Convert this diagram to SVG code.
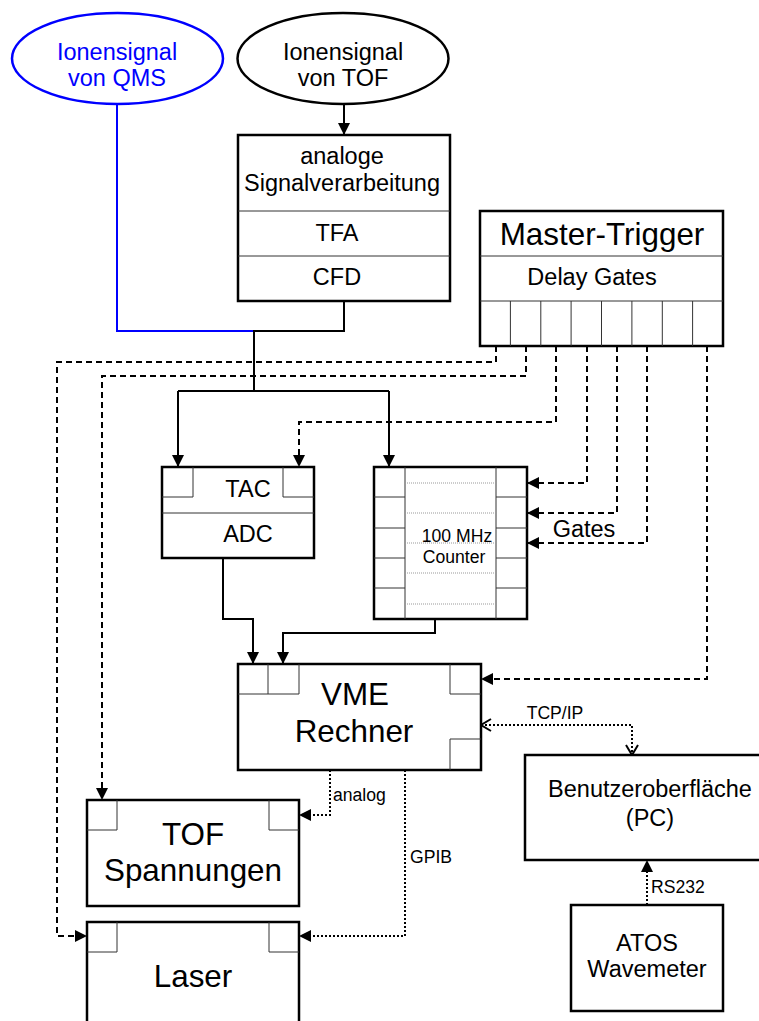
<svg xmlns="http://www.w3.org/2000/svg" width="759" height="1021" viewBox="0 0 759 1021">
<style>
.box{fill:#fff;stroke:#000;stroke-width:2.5}
.thin{fill:none;stroke:#333;stroke-width:1}
.dotthin{fill:none;stroke:#999;stroke-width:1;stroke-dasharray:1 1}
.t{font-family:"Liberation Sans",Arial,sans-serif;fill:#000;text-anchor:middle}
.s{text-anchor:start}
.f23{font-size:23.5px}
.f31{font-size:31.4px}
.f17{font-size:17.6px}
.solid{fill:none;stroke:#000;stroke-width:2}
.dash{fill:none;stroke:#000;stroke-width:2;stroke-dasharray:6 4}
.dot{fill:none;stroke:#000;stroke-width:2;stroke-dasharray:2 2}
.blue{fill:none;stroke:#0000ff;stroke-width:2}
</style>
<defs>
<marker id="arr" markerUnits="userSpaceOnUse" markerWidth="12" markerHeight="12" refX="12" refY="6" orient="auto">
<path d="M0,0 L12,6 L0,12 z" fill="#000"/>
</marker>
<marker id="open" markerUnits="userSpaceOnUse" markerWidth="14" markerHeight="14" refX="11" refY="7" orient="auto-start-reverse">
<path d="M1,1 L11,7 L1,13" fill="none" stroke="#000" stroke-width="2"/>
</marker>
</defs>

<g id="connectors">
<path class="blue" d="M117,104 V331 H254"/>
<path class="solid" d="M344,104 V135" marker-end="url(#arr)"/>
<path class="solid" d="M344,301 V331 H254 V391"/>
<path class="solid" d="M178,391 H389"/>
<path class="solid" d="M178,391 V467" marker-end="url(#arr)"/>
<path class="solid" d="M389,391 V467" marker-end="url(#arr)"/>
<path class="solid" d="M223,558 V619 H253 V664" marker-end="url(#arr)"/>
<path class="solid" d="M435,619 V633 H283 V664" marker-end="url(#arr)"/>
<path class="dash" d="M496,346 V362 H57 V936 H87" marker-end="url(#arr)"/>
<path class="dash" d="M526,346 V376 H102 V800" marker-end="url(#arr)"/>
<path class="dash" d="M556,346 V422 H299 V467" marker-end="url(#arr)"/>
<path class="dash" d="M587,346 V483 H527" marker-end="url(#arr)"/>
<path class="dash" d="M617,346 V513 H527" marker-end="url(#arr)"/>
<path class="dash" d="M647,346 V543 H527" marker-end="url(#arr)"/>
<path class="dash" d="M707,346 V679 H481" marker-end="url(#arr)"/>
<path class="dot" d="M330,770 V815 H299" marker-end="url(#arr)"/>
<path class="dot" d="M405,770 V936 H299" marker-end="url(#arr)"/>
<path class="dot" d="M481,725 H632 V755" marker-start="url(#open)" marker-end="url(#open)"/>
<path class="dot" d="M647,905 V860" marker-end="url(#arr)"/>
<text class="t f23" x="584" y="537">Gates</text>
<text class="t f17" x="555" y="719">TCP/IP</text>
<text class="t s f17" x="333" y="801">analog</text>
<text class="t s f17" x="410" y="863">GPIB</text>
<text class="t s f17" x="651" y="893">RS232</text>
</g>

<g id="qms">
<ellipse cx="117.5" cy="58.5" rx="105.5" ry="45.5" fill="#fff" stroke="#0000ff" stroke-width="2.5"/>
<text class="t f23" x="117" y="60" style="fill:#0000ff">Ionensignal</text>
<text class="t f23" x="117" y="86" style="fill:#0000ff">von QMS</text>
</g>

<g id="tof-signal">
<ellipse cx="343" cy="58.5" rx="105.5" ry="45.5" class="box"/>
<text class="t f23" x="343" y="60">Ionensignal</text>
<text class="t f23" x="343" y="86">von TOF</text>
</g>

<g id="analog-processing">
<rect class="box" x="238" y="135" width="212" height="166"/>
<path class="thin" d="M238,211 H450 M238,256 H450"/>
<text class="t f23" x="342" y="164">analoge</text>
<text class="t f23" x="342" y="191">Signalverarbeitung</text>
<text class="t f23" x="337" y="241">TFA</text>
<text class="t f23" x="337" y="285">CFD</text>
</g>

<g id="master-trigger">
<rect class="box" x="480" y="211" width="243" height="135"/>
<path class="thin" d="M480,256 H723 M480,301 H723 M510.4,301 V346 M540.8,301 V346 M571.1,301 V346 M601.5,301 V346 M631.9,301 V346 M662.3,301 V346 M692.6,301 V346"/>
<text class="t f31" x="602" y="245">Master-Trigger</text>
<text class="t f23" x="592" y="285">Delay Gates</text>
</g>

<g id="tac-adc">
<rect class="box" x="162" y="467" width="152" height="91"/>
<path class="thin" d="M162,513 H314 M162,497 H193 V467 M314,497 H283 V467"/>
<text class="t f23" x="248" y="497">TAC</text>
<text class="t f23" x="248" y="542">ADC</text>
</g>

<g id="counter">
<rect class="box" x="374" y="467" width="153" height="152"/>
<path class="thin" d="M405,467 V619 M496,467 V619 M374,497 H405 M374,528 H405 M374,558 H405 M374,588 H405 M496,497 H527 M496,528 H527 M496,558 H527 M496,588 H527"/>
<path class="dotthin" d="M405,483 H496 M405,513 H496 M405,543 H496 M405,573 H496 M405,604 H496"/>
<text class="t f17" x="457" y="542">100 MHz</text>
<text class="t f17" x="454" y="563">Counter</text>
</g>

<g id="vme">
<rect class="box" x="238" y="664" width="243" height="106"/>
<path class="thin" d="M238,694 H299 V664 M268,664 V694 M481,694 H450 V664 M481,739 H450 V770"/>
<text class="t f31" x="355" y="705">VME</text>
<text class="t f31" x="354" y="742">Rechner</text>
</g>

<g id="tof-voltages">
<rect class="box" x="87" y="800" width="212" height="106"/>
<path class="thin" d="M87,830 H117 V800 M299,830 H269 V800"/>
<text class="t f31" x="193" y="845">TOF</text>
<text class="t f31" x="193" y="881">Spannungen</text>
</g>

<g id="laser">
<rect class="box" x="87" y="922" width="212" height="106"/>
<path class="thin" d="M87,952 H117 V922 M299,952 H269 V922"/>
<text class="t f31" x="193" y="987">Laser</text>
</g>

<g id="pc">
<rect class="box" x="525" y="755" width="250" height="105"/>
<text class="t f23" x="650" y="797">Benutzeroberfläche</text>
<text class="t f23" x="650" y="826">(PC)</text>
</g>

<g id="atos">
<rect class="box" x="571" y="905" width="152" height="106"/>
<text class="t f23" x="647" y="951">ATOS</text>
<text class="t f23" x="647" y="977">Wavemeter</text>
</g>
</svg>
